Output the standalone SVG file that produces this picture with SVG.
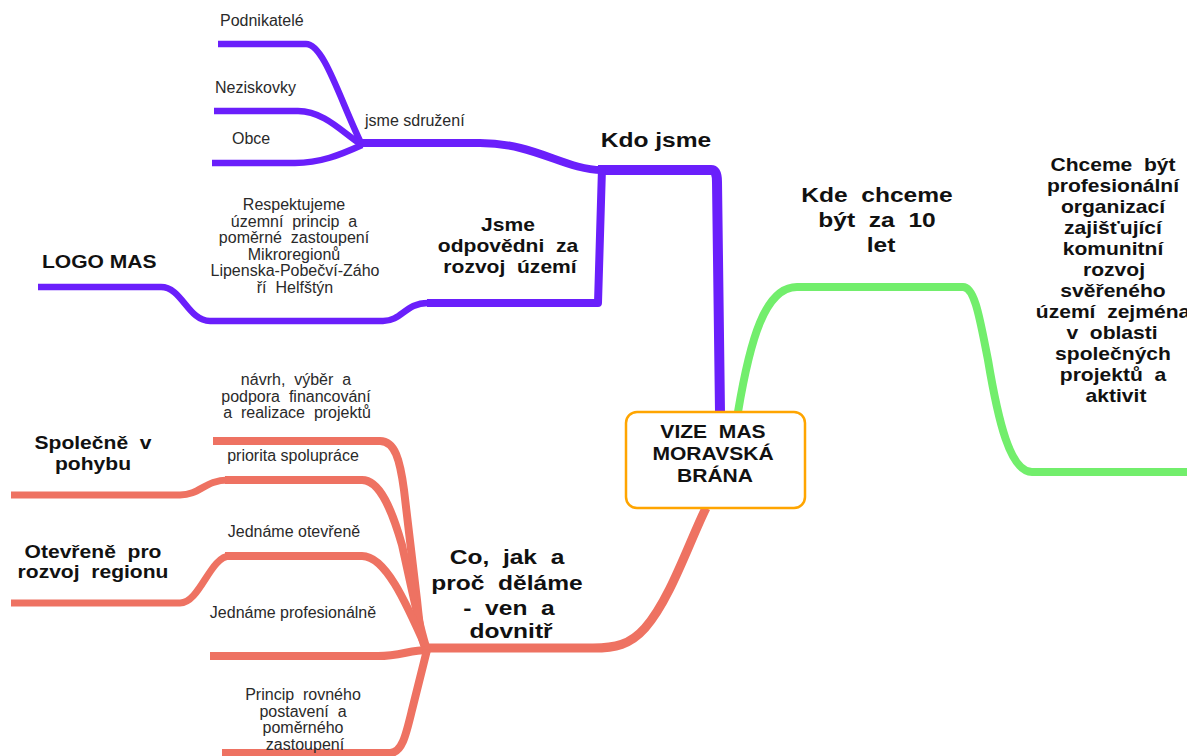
<svg xmlns="http://www.w3.org/2000/svg" width="1187" height="756" viewBox="0 0 1187 756" xml:space="preserve">
<style>
text{white-space:pre}
.t{font-family:"Liberation Sans",Arial,sans-serif;font-size:16px;fill:#2a2a2a;text-anchor:middle}
.ts{font-family:"Liberation Sans",Arial,sans-serif;font-size:16px;fill:#2a2a2a}
.b18{font-family:"Liberation Sans",Arial,sans-serif;font-size:18px;font-weight:bold;fill:#111;text-anchor:middle}
.b21{font-family:"Liberation Sans",Arial,sans-serif;font-size:21px;font-weight:bold;fill:#111;text-anchor:middle}
.p{fill:none;stroke:#6a1ffb;stroke-linecap:butt;stroke-linejoin:round}
.g{fill:none;stroke:#72ee6c;stroke-linejoin:round}
.r{fill:none;stroke:#ee7262;stroke-linejoin:round}
</style>
<rect width="1187" height="756" fill="#fff"/>
<g id="connectors">
  <path class="p" stroke-width="6.5" d="M218,44 H306 C324,44 340,100 362,145"/>
  <path class="p" stroke-width="6.5" d="M214,111 H298 C325,111 345,135 362,145"/>
  <path class="p" stroke-width="6.5" d="M212,163 H295 C320,163 340,155 362,145"/>
  <path class="p" stroke-width="8" d="M358,143 H480 C535,143 565,170 602,170"/>
  <path class="p" stroke-width="10" d="M598,170 H711 C716,170 717,175 717,182 L720,412"/>
  <path class="p" stroke-width="8" d="M602,168 L598,303 H427"/>
  <path class="p" stroke-width="6.5" d="M428,303 C405,303 402,321 383,321 H210 C188,321 182,287 161,287 H38"/>
  <path class="g" stroke-width="8" d="M738,412 C750,340 765,287 797,287 H963 C975,287 980,320 988,360 C998,420 1010,472 1032,472 H1187"/>
  <path class="r" stroke-width="9" d="M706,508 C690,540 670,600 645,628 C630,645 615,648 593,648 H424"/>
  <path class="r" stroke-width="8" d="M213,441 H380 C395,441 400,460 404,490 L417,600 C420,630 422,645 427,650"/>
  <path class="r" stroke-width="8" d="M225,480 H362 C380,480 392,510 402,545 C412,590 420,630 427,650"/>
  <path class="r" stroke-width="8" d="M225,556 H362 C385,556 405,600 427,650"/>
  <path class="r" stroke-width="8" d="M210,656 H378 C400,656 410,650 427,650"/>
  <path class="r" stroke-width="8" d="M222,753 H390 C402,753 406,735 412,710 L427,650"/>
  <path class="r" stroke-width="7" d="M228,480 C205,480 200,495 180,495 H11"/>
  <path class="r" stroke-width="7" d="M230,556 C210,556 200,603 180,603 H11"/>
</g>
<g id="center">
  <rect x="626" y="412" width="179" height="96" rx="11" fill="#fff" stroke="#ffa500" stroke-width="2.5"/>
  <text class="b18" transform="translate(713,0) scale(1.17,1)" x="0" y="438">VIZE  MAS</text>
  <text class="b18" transform="translate(713,0) scale(1.17,1)" x="0" y="460">MORAVSKÁ</text>
  <text class="b18" transform="translate(715,0) scale(1.17,1)" x="0" y="482">BRÁNA</text>
</g>
<g id="kdo-jsme">
  <text class="b21" transform="translate(656,0) scale(1.17,1)" x="0" y="147">Kdo jsme</text>
</g>
<g id="jsme-sdruzeni">
  <text class="ts" x="365" y="126">jsme sdružení</text>
</g>
<g id="podnikatele"><text class="ts" x="220" y="26">Podnikatelé</text></g>
<g id="neziskovky"><text class="ts" x="215" y="93">Neziskovky</text></g>
<g id="obce"><text class="ts" x="232" y="144">Obce</text></g>
<g id="jsme-odpovedni">
  <text class="b18" transform="translate(508,0) scale(1.17,1)" x="0" y="231">Jsme</text>
  <text class="b18" transform="translate(508,0) scale(1.17,1)" x="0" y="252">odpovědni  za</text>
  <text class="b18" transform="translate(510,0) scale(1.17,1)" x="0" y="273">rozvoj  území</text>
</g>
<g id="respektujeme">
  <text class="t" x="294" y="210">Respektujeme</text>
  <text class="t" x="294" y="226.5">územní  princip  a</text>
  <text class="t" x="294" y="243">poměrné  zastoupení</text>
  <text class="t" x="294" y="259.5">Mikroregionů</text>
  <text class="t" x="295" y="276">Lipenska-Pobečví-Záho</text>
  <text class="t" x="295" y="292.5">ří  Helfštýn</text>
</g>
<g id="logo-mas">
  <text class="b18" style="text-anchor:start" transform="translate(42,0) scale(1.17,1)" x="0" y="268">LOGO MAS</text>
</g>
<g id="kde-chceme">
  <text class="b21" transform="translate(877,0) scale(1.17,1)" x="0" y="202">Kde  chceme</text>
  <text class="b21" transform="translate(877,0) scale(1.17,1)" x="0" y="227">být  za  10</text>
  <text class="b21" transform="translate(881,0) scale(1.17,1)" x="0" y="252">let</text>
</g>
<g id="chceme-byt">
  <text class="b18" transform="translate(1113,0) scale(1.17,1)" x="0" y="171">Chceme  být</text>
  <text class="b18" transform="translate(1113,0) scale(1.17,1)" x="0" y="192">profesionální</text>
  <text class="b18" transform="translate(1113,0) scale(1.17,1)" x="0" y="213">organizací</text>
  <text class="b18" transform="translate(1113,0) scale(1.17,1)" x="0" y="234">zajišťující</text>
  <text class="b18" transform="translate(1113,0) scale(1.17,1)" x="0" y="255">komunitní</text>
  <text class="b18" transform="translate(1114,0) scale(1.17,1)" x="0" y="276">rozvoj</text>
  <text class="b18" transform="translate(1113,0) scale(1.17,1)" x="0" y="297">svěřeného</text>
  <text class="b18" transform="translate(1113,0) scale(1.17,1)" x="0" y="318">území  zejména</text>
  <text class="b18" transform="translate(1112,0) scale(1.17,1)" x="0" y="339">v  oblasti</text>
  <text class="b18" transform="translate(1113,0) scale(1.17,1)" x="0" y="360">společných</text>
  <text class="b18" transform="translate(1113,0) scale(1.17,1)" x="0" y="381">projektů  a</text>
  <text class="b18" transform="translate(1116,0) scale(1.17,1)" x="0" y="402">aktivit</text>
</g>
<g id="co-jak">
  <text class="b21" transform="translate(507,0) scale(1.17,1)" x="0" y="564">Co,  jak  a</text>
  <text class="b21" transform="translate(507,0) scale(1.17,1)" x="0" y="590">proč  děláme</text>
  <text class="b21" transform="translate(509,0) scale(1.17,1)" x="0" y="615">-  ven  a</text>
  <text class="b21" transform="translate(511,0) scale(1.17,1)" x="0" y="638">dovnitř</text>
</g>
<g id="navrh">
  <text class="t" x="296" y="385">návrh,  výběr  a</text>
  <text class="t" x="296" y="402">podpora  financování</text>
  <text class="t" x="297" y="418">a  realizace  projektů</text>
</g>
<g id="priorita"><text class="t" x="293" y="461">priorita spolupráce</text></g>
<g id="jednamе-oteverene"><text class="t" x="294" y="537">Jednáme otevřeně</text></g>
<g id="jednamе-profesionalne"><text class="t" x="293" y="618">Jednáme profesionálně</text></g>
<g id="princip">
  <text class="t" x="303" y="700">Princip  rovného</text>
  <text class="t" x="303" y="716.5">postavení  a</text>
  <text class="t" x="303" y="733">poměrného</text>
  <text class="t" x="305" y="749.5">zastoupení</text>
</g>
<g id="spolecne">
  <text class="b18" transform="translate(93,0) scale(1.17,1)" x="0" y="449">Společně  v</text>
  <text class="b18" transform="translate(93,0) scale(1.17,1)" x="0" y="470">pohybu</text>
</g>
<g id="oteverene-pro">
  <text class="b18" transform="translate(93,0) scale(1.17,1)" x="0" y="558">Otevřeně  pro</text>
  <text class="b18" transform="translate(93,0) scale(1.17,1)" x="0" y="578">rozvoj  regionu</text>
</g>
</svg>
